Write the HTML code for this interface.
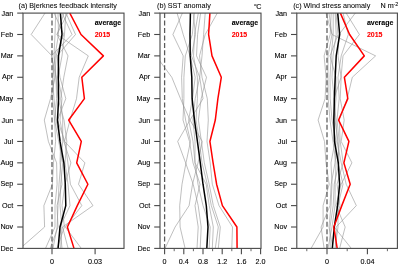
<!DOCTYPE html>
<html><head><meta charset="utf-8"><style>
html,body{margin:0;padding:0;background:#fff;width:398px;height:264px;overflow:hidden}
svg{display:block;will-change:transform}
text{font-family:"Liberation Sans",sans-serif;font-size:7.2px;fill:#000;stroke:#000;stroke-width:0.1px}
.b{font-weight:bold;font-size:7px;stroke-width:0.08px}
</style></head><body>
<svg width="398" height="264" viewBox="0 0 398 264">
<rect width="398" height="264" fill="#fff"/>
<clipPath id="cpa"><rect x="23.0" y="13.1" width="101.0" height="235.3"/></clipPath>
<g clip-path="url(#cpa)">
<polyline points="45.00,13.10 31.20,34.49 52.00,55.88 54.00,77.27 52.50,98.66 54.60,120.05 55.60,141.45 53.50,162.84 52.40,184.23 43.90,205.62 44.60,227.01 20.20,248.40" fill="none" stroke="#939393" stroke-width="0.6" stroke-linejoin="round"/>
<polyline points="64.00,13.10 57.00,34.49 88.30,55.88 79.20,77.27 76.50,98.66 70.00,120.05 64.50,141.45 84.90,162.84 78.50,184.23 93.00,205.62 62.50,227.01 68.10,248.40" fill="none" stroke="#939393" stroke-width="0.6" stroke-linejoin="round"/>
<polyline points="54.10,13.10 63.70,34.49 56.00,55.88 55.00,77.27 50.50,98.66 44.30,120.05 48.40,141.45 56.60,162.84 57.10,184.23 55.00,205.62 55.00,227.01 45.50,248.40" fill="none" stroke="#939393" stroke-width="0.6" stroke-linejoin="round"/>
<polyline points="67.60,13.10 57.00,34.49 68.00,55.88 63.80,77.27 60.70,98.66 62.70,120.05 62.70,141.45 60.70,162.84 59.00,184.23 58.00,205.62 57.10,227.01 53.00,248.40" fill="none" stroke="#939393" stroke-width="0.6" stroke-linejoin="round"/>
<polyline points="55.70,13.10 55.00,34.49 54.00,55.88 56.00,77.27 56.60,98.66 54.60,120.05 58.70,141.45 62.70,162.84 60.70,184.23 60.00,205.62 61.90,227.01 60.60,248.40" fill="none" stroke="#939393" stroke-width="0.6" stroke-linejoin="round"/>
<polyline points="66.00,13.10 75.50,34.49 57.00,55.88 60.00,77.27 65.80,98.66 57.50,120.05 64.80,141.45 67.90,162.84 70.40,184.23 81.80,205.62 65.30,227.01 81.30,248.40" fill="none" stroke="#939393" stroke-width="0.6" stroke-linejoin="round"/>
<polyline points="65.80,13.10 64.50,34.49 62.00,55.88 58.00,77.27 62.00,98.66 60.00,120.05 63.80,141.45 70.90,162.84 65.00,184.23 62.00,205.62 64.40,227.01 57.00,248.40" fill="none" stroke="#939393" stroke-width="0.6" stroke-linejoin="round"/>
<polyline points="58.00,13.10 58.50,34.49 55.00,55.88 52.50,77.27 54.00,98.66 56.00,120.05 60.70,141.45 60.00,162.84 62.00,184.23 57.00,205.62 58.00,227.01 50.20,248.40" fill="none" stroke="#939393" stroke-width="0.6" stroke-linejoin="round"/>
<polyline points="62.00,13.10 72.00,34.49 51.50,55.88 56.00,77.27 58.00,98.66 64.00,120.05 66.80,141.45 65.00,162.84 68.00,184.23 70.00,205.62 60.00,227.01 62.00,248.40" fill="none" stroke="#939393" stroke-width="0.6" stroke-linejoin="round"/>
</g>
<line x1="52.0" y1="13.1" x2="52.0" y2="248.4" stroke="#5a5a5a" stroke-width="1.25" stroke-dasharray="5 2.45"/>
<polyline points="60.40,13.10 62.00,34.49 58.50,55.88 58.30,77.27 58.60,98.66 57.50,120.05 60.00,141.45 63.90,162.84 65.30,184.23 65.80,205.62 60.00,227.01 58.10,248.40" fill="none" stroke="#000" stroke-width="1.5" stroke-linejoin="round"/>
<polyline points="69.80,13.10 81.00,34.49 103.40,55.88 81.80,77.27 84.40,98.66 68.70,120.05 81.30,141.45 76.70,162.84 87.90,184.23 77.30,205.62 67.40,227.01 74.00,248.40" fill="none" stroke="#f00" stroke-width="1.5" stroke-linejoin="round"/>
<rect x="23.0" y="13.1" width="101.0" height="235.3" fill="none" stroke="#484848" stroke-width="1.1"/>
<line x1="17.2" y1="13.10" x2="23.0" y2="13.10" stroke="#484848" stroke-width="1.1"/>
<text x="13.2" y="15.55" text-anchor="end">Jan</text>
<line x1="17.2" y1="34.49" x2="23.0" y2="34.49" stroke="#484848" stroke-width="1.1"/>
<text x="13.2" y="36.94" text-anchor="end">Feb</text>
<line x1="17.2" y1="55.88" x2="23.0" y2="55.88" stroke="#484848" stroke-width="1.1"/>
<text x="13.2" y="58.23" text-anchor="end">Mar</text>
<line x1="17.2" y1="77.27" x2="23.0" y2="77.27" stroke="#484848" stroke-width="1.1"/>
<text x="13.2" y="78.82" text-anchor="end">Apr</text>
<line x1="17.2" y1="98.66" x2="23.0" y2="98.66" stroke="#484848" stroke-width="1.1"/>
<text x="13.2" y="100.61" text-anchor="end">May</text>
<line x1="17.2" y1="120.05" x2="23.0" y2="120.05" stroke="#484848" stroke-width="1.1"/>
<text x="13.2" y="122.50" text-anchor="end">Jun</text>
<line x1="17.2" y1="141.45" x2="23.0" y2="141.45" stroke="#484848" stroke-width="1.1"/>
<text x="13.2" y="143.80" text-anchor="end">Jul</text>
<line x1="17.2" y1="162.84" x2="23.0" y2="162.84" stroke="#484848" stroke-width="1.1"/>
<text x="13.2" y="164.79" text-anchor="end">Aug</text>
<line x1="17.2" y1="184.23" x2="23.0" y2="184.23" stroke="#484848" stroke-width="1.1"/>
<text x="13.2" y="185.88" text-anchor="end">Sep</text>
<line x1="17.2" y1="205.62" x2="23.0" y2="205.62" stroke="#484848" stroke-width="1.1"/>
<text x="13.2" y="208.07" text-anchor="end">Oct</text>
<line x1="17.2" y1="227.01" x2="23.0" y2="227.01" stroke="#484848" stroke-width="1.1"/>
<text x="13.2" y="229.46" text-anchor="end">Nov</text>
<line x1="17.2" y1="248.40" x2="23.0" y2="248.40" stroke="#484848" stroke-width="1.1"/>
<text x="13.2" y="250.85" text-anchor="end">Dec</text>
<line x1="52.00" y1="248.4" x2="52.00" y2="254.20000000000002" stroke="#484848" stroke-width="1.1"/>
<text x="52.00" y="263.6" text-anchor="middle">0</text>
<line x1="95.10" y1="248.4" x2="95.10" y2="254.20000000000002" stroke="#484848" stroke-width="1.1"/>
<text x="95.10" y="263.6" text-anchor="middle">0.03</text>
<text x="18.5" y="7.8" style="stroke-width:0.05px">(a) Bjerknes feedback intensity</text>
<text class="b" x="94.70" y="25.2">average</text>
<text class="b" x="94.70" y="36.9" style="fill:#f00;stroke:#f00">2015</text>
<clipPath id="cpb"><rect x="160.0" y="13.1" width="101.0" height="235.3"/></clipPath>
<g clip-path="url(#cpb)">
<polyline points="150.00,13.10 150.00,34.49 156.00,55.88 171.80,77.27 180.50,98.66 190.00,120.05 202.30,141.45 198.00,162.84 192.50,184.23 189.10,205.62 175.10,227.01 165.00,248.40" fill="none" stroke="#939393" stroke-width="0.6" stroke-linejoin="round"/>
<polyline points="182.40,13.10 172.90,34.49 183.20,55.88 181.60,77.27 182.30,98.66 185.60,120.05 190.50,141.45 186.00,162.84 182.00,184.23 179.70,205.62 180.10,227.01 185.10,248.40" fill="none" stroke="#939393" stroke-width="0.6" stroke-linejoin="round"/>
<polyline points="177.10,13.10 183.20,34.49 190.00,55.88 195.20,77.27 192.50,98.66 188.60,120.05 193.00,141.45 195.00,162.84 198.00,184.23 203.00,205.62 210.20,227.01 209.20,248.40" fill="none" stroke="#939393" stroke-width="0.6" stroke-linejoin="round"/>
<polyline points="194.50,13.10 192.30,34.49 185.30,55.88 183.90,77.27 183.90,98.66 183.00,120.05 189.50,141.45 193.00,162.84 200.00,184.23 195.00,205.62 198.20,227.01 197.00,248.40" fill="none" stroke="#939393" stroke-width="0.6" stroke-linejoin="round"/>
<polyline points="193.20,13.10 195.50,34.49 191.50,55.88 199.70,77.27 195.20,98.66 193.00,120.05 195.00,141.45 195.00,162.84 206.20,184.23 209.20,205.62 213.30,227.01 212.30,248.40" fill="none" stroke="#939393" stroke-width="0.6" stroke-linejoin="round"/>
<polyline points="198.30,13.10 194.50,34.49 193.50,55.88 197.40,77.27 197.40,98.66 196.00,120.05 199.40,141.45 202.00,162.84 207.30,184.23 211.30,205.62 218.30,227.01 215.30,248.40" fill="none" stroke="#939393" stroke-width="0.6" stroke-linejoin="round"/>
<polyline points="200.60,13.10 197.60,34.49 196.50,55.88 206.50,77.27 201.20,98.66 198.40,120.05 201.40,141.45 204.30,162.84 209.20,184.23 213.30,205.62 220.30,227.01 218.30,248.40" fill="none" stroke="#939393" stroke-width="0.6" stroke-linejoin="round"/>
<polyline points="205.20,13.10 203.60,34.49 202.00,55.88 199.70,77.27 203.00,98.66 190.00,120.05 177.70,141.45 185.60,162.84 193.20,184.23 198.20,205.62 201.20,227.01 200.20,248.40" fill="none" stroke="#939393" stroke-width="0.6" stroke-linejoin="round"/>
<polyline points="217.30,13.10 205.20,34.49 199.50,55.88 202.00,77.27 207.30,98.66 208.30,120.05 207.00,141.45 210.20,162.84 212.30,184.23 219.00,205.62 232.50,227.01 231.80,248.40" fill="none" stroke="#939393" stroke-width="0.6" stroke-linejoin="round"/>
</g>
<line x1="164.6" y1="13.1" x2="164.6" y2="248.4" stroke="#5a5a5a" stroke-width="1.25" stroke-dasharray="5 2.45"/>
<polyline points="190.40,13.10 190.00,34.49 190.20,55.88 191.80,77.27 192.10,98.66 194.50,120.05 197.40,141.45 200.30,162.84 203.00,184.23 206.30,205.62 208.00,227.01 206.80,248.40" fill="none" stroke="#000" stroke-width="1.5" stroke-linejoin="round"/>
<polyline points="209.90,13.10 208.60,34.49 212.00,55.88 221.30,77.27 217.90,98.66 215.30,120.05 209.90,141.45 213.10,162.84 216.60,184.23 222.40,205.62 236.90,227.01 237.10,248.40" fill="none" stroke="#f00" stroke-width="1.5" stroke-linejoin="round"/>
<rect x="160.0" y="13.1" width="101.0" height="235.3" fill="none" stroke="#484848" stroke-width="1.1"/>
<line x1="154.2" y1="13.10" x2="160.0" y2="13.10" stroke="#484848" stroke-width="1.1"/>
<text x="150.2" y="15.55" text-anchor="end">Jan</text>
<line x1="154.2" y1="34.49" x2="160.0" y2="34.49" stroke="#484848" stroke-width="1.1"/>
<text x="150.2" y="36.94" text-anchor="end">Feb</text>
<line x1="154.2" y1="55.88" x2="160.0" y2="55.88" stroke="#484848" stroke-width="1.1"/>
<text x="150.2" y="58.23" text-anchor="end">Mar</text>
<line x1="154.2" y1="77.27" x2="160.0" y2="77.27" stroke="#484848" stroke-width="1.1"/>
<text x="150.2" y="78.82" text-anchor="end">Apr</text>
<line x1="154.2" y1="98.66" x2="160.0" y2="98.66" stroke="#484848" stroke-width="1.1"/>
<text x="150.2" y="100.61" text-anchor="end">May</text>
<line x1="154.2" y1="120.05" x2="160.0" y2="120.05" stroke="#484848" stroke-width="1.1"/>
<text x="150.2" y="122.50" text-anchor="end">Jun</text>
<line x1="154.2" y1="141.45" x2="160.0" y2="141.45" stroke="#484848" stroke-width="1.1"/>
<text x="150.2" y="143.80" text-anchor="end">Jul</text>
<line x1="154.2" y1="162.84" x2="160.0" y2="162.84" stroke="#484848" stroke-width="1.1"/>
<text x="150.2" y="164.79" text-anchor="end">Aug</text>
<line x1="154.2" y1="184.23" x2="160.0" y2="184.23" stroke="#484848" stroke-width="1.1"/>
<text x="150.2" y="185.88" text-anchor="end">Sep</text>
<line x1="154.2" y1="205.62" x2="160.0" y2="205.62" stroke="#484848" stroke-width="1.1"/>
<text x="150.2" y="208.07" text-anchor="end">Oct</text>
<line x1="154.2" y1="227.01" x2="160.0" y2="227.01" stroke="#484848" stroke-width="1.1"/>
<text x="150.2" y="229.46" text-anchor="end">Nov</text>
<line x1="154.2" y1="248.40" x2="160.0" y2="248.40" stroke="#484848" stroke-width="1.1"/>
<text x="150.2" y="250.85" text-anchor="end">Dec</text>
<line x1="164.60" y1="248.4" x2="164.60" y2="254.20000000000002" stroke="#484848" stroke-width="1.1"/>
<text x="164.60" y="263.6" text-anchor="middle">0</text>
<line x1="183.80" y1="248.4" x2="183.80" y2="254.20000000000002" stroke="#484848" stroke-width="1.1"/>
<text x="183.80" y="263.6" text-anchor="middle">0.4</text>
<line x1="203.00" y1="248.4" x2="203.00" y2="254.20000000000002" stroke="#484848" stroke-width="1.1"/>
<text x="203.00" y="263.6" text-anchor="middle">0.8</text>
<line x1="222.20" y1="248.4" x2="222.20" y2="254.20000000000002" stroke="#484848" stroke-width="1.1"/>
<text x="222.20" y="263.6" text-anchor="middle">1.2</text>
<line x1="241.40" y1="248.4" x2="241.40" y2="254.20000000000002" stroke="#484848" stroke-width="1.1"/>
<text x="241.40" y="263.6" text-anchor="middle">1.6</text>
<line x1="260.60" y1="248.4" x2="260.60" y2="254.20000000000002" stroke="#484848" stroke-width="1.1"/>
<text x="260.60" y="263.6" text-anchor="middle">2.0</text>
<line x1="174.20" y1="248.4" x2="174.20" y2="251.20000000000002" stroke="#555" stroke-width="0.9"/>
<line x1="193.40" y1="248.4" x2="193.40" y2="251.20000000000002" stroke="#555" stroke-width="0.9"/>
<line x1="212.60" y1="248.4" x2="212.60" y2="251.20000000000002" stroke="#555" stroke-width="0.9"/>
<line x1="231.80" y1="248.4" x2="231.80" y2="251.20000000000002" stroke="#555" stroke-width="0.9"/>
<line x1="251.00" y1="248.4" x2="251.00" y2="251.20000000000002" stroke="#555" stroke-width="0.9"/>
<text x="157.0" y="7.8" style="stroke-width:0.05px">(b) SST anomaly</text>
<text class="b" x="231.70" y="25.2">average</text>
<text class="b" x="231.70" y="36.9" style="fill:#f00;stroke:#f00">2015</text>
<text x="261.5" y="8.6" text-anchor="end">C</text>
<text x="254.15" y="5.9" style="font-size:4px;stroke-width:0.15px">o</text>
<clipPath id="cpc"><rect x="296.8" y="13.1" width="100.59999999999997" height="235.3"/></clipPath>
<g clip-path="url(#cpc)">
<polyline points="331.20,13.10 330.20,34.49 324.10,55.88 326.10,77.27 325.10,98.66 318.10,120.05 324.50,141.45 326.00,162.84 329.20,184.23 323.10,205.62 323.10,227.01 311.10,248.40" fill="none" stroke="#939393" stroke-width="0.6" stroke-linejoin="round"/>
<polyline points="355.30,13.10 339.00,34.49 338.00,55.88 341.20,77.27 340.20,98.66 344.20,120.05 341.20,141.45 351.90,162.84 341.20,184.23 336.00,205.62 345.20,227.01 339.60,248.40" fill="none" stroke="#939393" stroke-width="0.6" stroke-linejoin="round"/>
<polyline points="346.20,13.10 359.40,34.49 343.00,55.88 341.00,77.27 334.00,98.66 336.00,120.05 337.20,141.45 341.20,162.84 346.20,184.23 356.30,205.62 336.20,227.01 336.00,248.40" fill="none" stroke="#939393" stroke-width="0.6" stroke-linejoin="round"/>
<polyline points="326.00,13.10 332.00,34.49 375.60,55.88 352.30,77.27 347.20,98.66 339.20,120.05 340.20,141.45 343.20,162.84 337.00,184.23 340.00,205.62 334.20,227.01 351.30,248.40" fill="none" stroke="#939393" stroke-width="0.6" stroke-linejoin="round"/>
<polyline points="333.20,13.10 333.20,34.49 331.20,55.88 330.00,77.27 330.20,98.66 332.00,120.05 336.00,141.45 335.00,162.84 331.20,184.23 330.00,205.62 321.10,227.01 324.10,248.40" fill="none" stroke="#939393" stroke-width="0.6" stroke-linejoin="round"/>
<polyline points="335.20,13.10 336.20,34.49 333.00,55.88 332.00,77.27 334.20,98.66 335.00,120.05 338.00,141.45 339.00,162.84 334.20,184.23 333.20,205.62 330.00,227.01 330.20,248.40" fill="none" stroke="#939393" stroke-width="0.6" stroke-linejoin="round"/>
<polyline points="329.00,13.10 332.00,34.49 328.00,55.88 328.00,77.27 328.20,98.66 330.00,120.05 333.00,141.45 336.00,162.84 335.20,184.23 335.00,205.62 332.00,227.01 328.00,248.40" fill="none" stroke="#939393" stroke-width="0.6" stroke-linejoin="round"/>
<polyline points="343.00,13.10 348.30,34.49 341.20,55.88 338.00,77.27 339.20,98.66 337.00,120.05 339.20,141.45 338.00,162.84 343.00,184.23 338.00,205.62 338.00,227.01 335.00,248.40" fill="none" stroke="#939393" stroke-width="0.6" stroke-linejoin="round"/>
<polyline points="336.00,13.10 338.00,34.49 330.00,55.88 336.00,77.27 336.00,98.66 334.00,120.05 335.00,141.45 331.00,162.84 332.00,184.23 331.00,205.62 329.00,227.01 333.00,248.40" fill="none" stroke="#939393" stroke-width="0.6" stroke-linejoin="round"/>
</g>
<line x1="327.0" y1="13.1" x2="327.0" y2="248.4" stroke="#5a5a5a" stroke-width="1.25" stroke-dasharray="5 2.45"/>
<polyline points="337.70,13.10 339.70,34.49 336.20,55.88 335.20,77.27 334.40,98.66 333.80,120.05 334.50,141.45 338.30,162.84 339.60,184.23 337.60,205.62 334.30,227.01 332.30,248.40" fill="none" stroke="#000" stroke-width="1.5" stroke-linejoin="round"/>
<polyline points="340.40,13.10 349.60,34.49 364.30,55.88 344.40,77.27 347.80,98.66 338.60,120.05 348.90,141.45 343.90,162.84 350.20,184.23 341.80,205.62 333.80,227.01 337.20,248.40" fill="none" stroke="#f00" stroke-width="1.5" stroke-linejoin="round"/>
<rect x="296.8" y="13.1" width="100.59999999999997" height="235.3" fill="none" stroke="#484848" stroke-width="1.1"/>
<line x1="291.0" y1="13.10" x2="296.8" y2="13.10" stroke="#484848" stroke-width="1.1"/>
<text x="287.0" y="15.55" text-anchor="end">Jan</text>
<line x1="291.0" y1="34.49" x2="296.8" y2="34.49" stroke="#484848" stroke-width="1.1"/>
<text x="287.0" y="36.94" text-anchor="end">Feb</text>
<line x1="291.0" y1="55.88" x2="296.8" y2="55.88" stroke="#484848" stroke-width="1.1"/>
<text x="287.0" y="58.23" text-anchor="end">Mar</text>
<line x1="291.0" y1="77.27" x2="296.8" y2="77.27" stroke="#484848" stroke-width="1.1"/>
<text x="287.0" y="78.82" text-anchor="end">Apr</text>
<line x1="291.0" y1="98.66" x2="296.8" y2="98.66" stroke="#484848" stroke-width="1.1"/>
<text x="287.0" y="100.61" text-anchor="end">May</text>
<line x1="291.0" y1="120.05" x2="296.8" y2="120.05" stroke="#484848" stroke-width="1.1"/>
<text x="287.0" y="122.50" text-anchor="end">Jun</text>
<line x1="291.0" y1="141.45" x2="296.8" y2="141.45" stroke="#484848" stroke-width="1.1"/>
<text x="287.0" y="143.80" text-anchor="end">Jul</text>
<line x1="291.0" y1="162.84" x2="296.8" y2="162.84" stroke="#484848" stroke-width="1.1"/>
<text x="287.0" y="164.79" text-anchor="end">Aug</text>
<line x1="291.0" y1="184.23" x2="296.8" y2="184.23" stroke="#484848" stroke-width="1.1"/>
<text x="287.0" y="185.88" text-anchor="end">Sep</text>
<line x1="291.0" y1="205.62" x2="296.8" y2="205.62" stroke="#484848" stroke-width="1.1"/>
<text x="287.0" y="208.07" text-anchor="end">Oct</text>
<line x1="291.0" y1="227.01" x2="296.8" y2="227.01" stroke="#484848" stroke-width="1.1"/>
<text x="287.0" y="229.46" text-anchor="end">Nov</text>
<line x1="291.0" y1="248.40" x2="296.8" y2="248.40" stroke="#484848" stroke-width="1.1"/>
<text x="287.0" y="250.85" text-anchor="end">Dec</text>
<line x1="327.00" y1="248.4" x2="327.00" y2="254.20000000000002" stroke="#484848" stroke-width="1.1"/>
<text x="327.00" y="263.6" text-anchor="middle">0</text>
<line x1="367.40" y1="248.4" x2="367.40" y2="254.20000000000002" stroke="#484848" stroke-width="1.1"/>
<text x="367.40" y="263.6" text-anchor="middle">0.04</text>
<line x1="306.80" y1="248.4" x2="306.80" y2="251.20000000000002" stroke="#555" stroke-width="0.9"/>
<line x1="347.20" y1="248.4" x2="347.20" y2="251.20000000000002" stroke="#555" stroke-width="0.9"/>
<line x1="387.40" y1="248.4" x2="387.40" y2="251.20000000000002" stroke="#555" stroke-width="0.9"/>
<text x="293.2" y="7.8" style="stroke-width:0.05px">(c) Wind stress anomaly</text>
<text class="b" x="366.90" y="25.2">average</text>
<text class="b" x="366.90" y="36.9" style="fill:#f00;stroke:#f00">2015</text>
<text x="380.6" y="7.95">N m</text>
<text x="393.5" y="6.1" style="font-size:5.5px;stroke-width:0.08px">-2</text>
</svg></body></html>
